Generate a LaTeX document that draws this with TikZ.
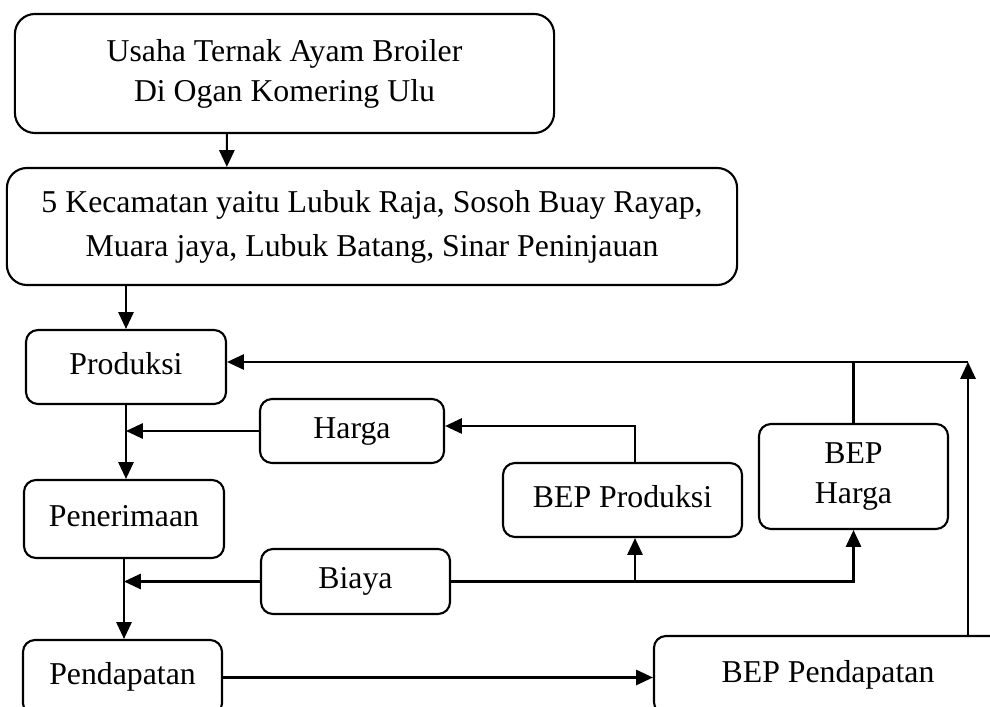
\documentclass[tikz,border=0pt]{standalone}
\usepackage{fontspec}
\setmainfont{Liberation Serif}
\usetikzlibrary{arrows.meta,calc}
\tikzset{
  box/.style={draw, line width=1.5pt, rounded corners=0.3cm, align=center, inner sep=0pt},
  onebox/.style={box, text height=15.8pt, text depth=5.6pt},
  link/.style={line width=1.5pt, -{Triangle[length=0.42cm, width=0.38cm]}}
}

\begin{document}
\begin{tikzpicture}[x=0.025cm, y=-0.025cm,
  every node/.style={font=\fontsize{22.6}{28.5}\selectfont}]
\useasboundingbox (0,0) rectangle (990,707);
\clip (0,0) rectangle (990,707);
% Boxes
\node[box, minimum width=13.475cm, minimum height=2.975cm, rounded corners=0.5cm] (usaha) at (284.5,73.5) {Usaha Ternak Ayam Broiler\\Di Ogan Komering Ulu};
\node[box, minimum width=18.25cm, minimum height=2.925cm, rounded corners=0.5cm, font=\fontsize{22.6}{31.2}\selectfont] (kec) at (372,226.5)
  {5 Kecamatan yaitu Lubuk Raja, Sosoh Buay Rayap,\\Muara jaya, Lubuk Batang, Sinar Peninjauan};
\node[onebox, minimum width=5cm, minimum height=1.85cm] (prod) at (126,367) {Produksi};
\node[onebox, minimum width=4.6cm, minimum height=1.6cm] (harga) at (352,431) {Harga};
\node[onebox, minimum width=5cm, minimum height=1.95cm] (pener) at (124,519) {Penerimaan};
\node[onebox, minimum width=4.725cm, minimum height=1.625cm] (biaya) at (355.5,581.5) {Biaya};
\node[onebox, minimum width=4.975cm, minimum height=1.875cm] (pend) at (122.5,677.5) {Pendapatan};
\node[onebox, minimum width=5.975cm, minimum height=1.85cm] (bepprod) at (622.5,500) {BEP Produksi};
\node[box, minimum width=4.725cm, minimum height=2.625cm] (bepharga) at (853.5,476.5) {BEP\\Harga};
\node[onebox, minimum width=8.7cm, minimum height=1.95cm] (beppend) at (828,675) {BEP Pendapatan};
% Turning points
\coordinate (top) at (968,362);
\coordinate (hp) at (635,426);
% Main flow
\draw[link] ($(usaha.south west)+(213,0)$) -- ($(kec.north west)+(221,0)$);
\draw[link] (kec.south -| prod.north) -- (prod.north);
\draw[link] (prod.south) -- (prod.south |- pener.north);
\draw[link] (pener.south) -- (pener.south |- pend.north);
\draw[link] (harga.west) -- (harga.west -| prod.south);
\draw[link] (biaya.west) -- (biaya.west -| pener.south);
\draw[link] (pend.east) -- (pend.east -| beppend.west);
% Feedback lines
\draw[link] (beppend.north -| top) -- (top);
\draw[link] (top) -- (top -| prod.east);
\draw[line width=1.5pt] (bepharga.north) -- (bepharga.north |- top);
\draw[link] (bepprod.north -| hp) -- (hp) -- (hp -| harga.east);
\draw[link] (biaya.east) -| (bepharga.south);
\draw[link] (biaya.east -| hp) -- (bepprod.south -| hp);
\end{tikzpicture}
\end{document}
